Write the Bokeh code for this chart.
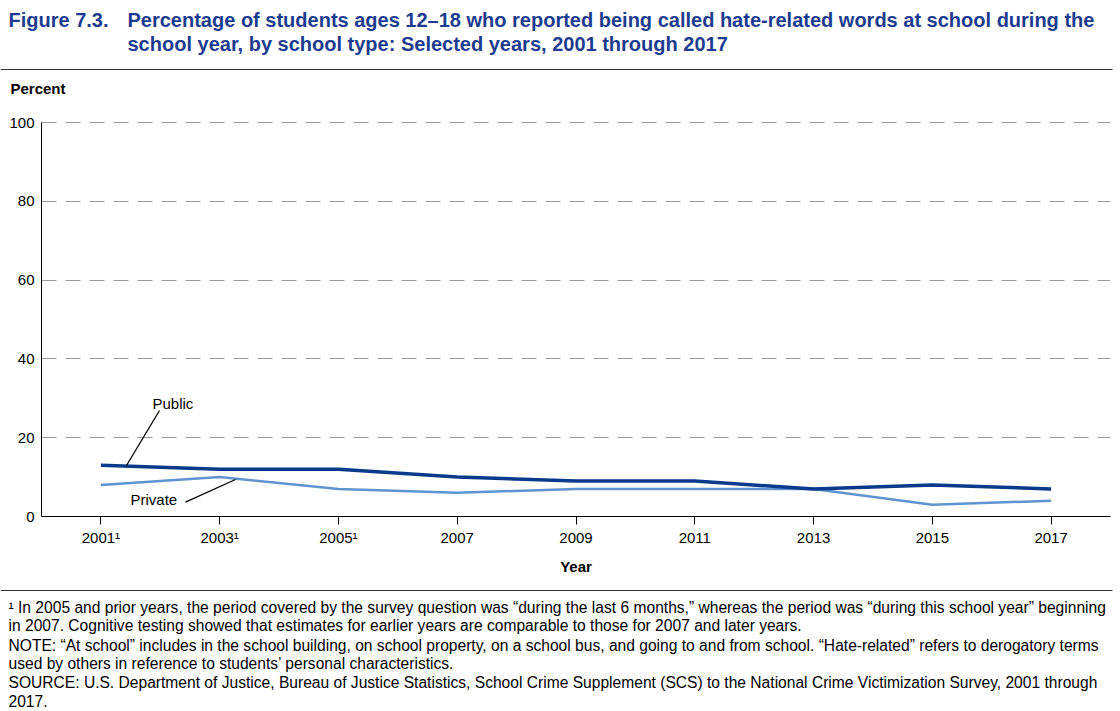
from bokeh.plotting import figure
from bokeh.layouts import column
from bokeh.models import Range1d, FixedTicker
from bokeh.core.properties import value
from bokeh.embed import file_html
from bokeh.resources import INLINE

# ---- data ----
years = [2001, 2003, 2005, 2007, 2009, 2011, 2013, 2015, 2017]
public = [13, 12, 12, 10, 9, 9, 7, 8, 7]
private = [8, 10, 7, 6, 7, 7, 7, 3, 4]
x_tick_labels = ["2001\u00b9", "2003\u00b9", "2005\u00b9", "2007", "2009", "2011", "2013", "2015", "2017"]
y_ticks = [0, 20, 40, 60, 80, 100]

title_num = "Figure 7.3."
title_lines = [
    "Percentage of students ages 12\u201318 who reported being called hate-related words at school during the",
    "school year, by school type: Selected years, 2001 through 2017",
]
footnotes = [
    "\u00b9 In 2005 and prior years, the period covered by the survey question was \u201cduring the last 6 months,\u201d whereas the period was \u201cduring this school year\u201d beginning",
    "in 2007. Cognitive testing showed that estimates for earlier years are comparable to those for 2007 and later years.",
    "NOTE: \u201cAt school\u201d includes in the school building, on school property, on a school bus, and going to and from school. \u201cHate-related\u201d refers to derogatory terms",
    "used by others in reference to students\u2019 personal characteristics.",
    "SOURCE: U.S. Department of Justice, Bureau of Justice Statistics, School Crime Supplement (SCS) to the National Crime Victimization Survey, 2001 through",
    "2017.",
]

FONT = "Liberation Sans"
TITLE_COLOR = "#1d3c8f"
PUBLIC_COLOR = "#0a3a8c"
PRIVATE_COLOR = "#5e94d0"
W = 1120

TOP_Y0, TOP_Y1 = 0, 100
MAIN_Y0, MAIN_Y1 = 100, 580
BOT_Y0, BOT_Y1 = 580, 711


def blank(y0, y1):
    f = figure(width=W, height=y1 - y0, x_range=Range1d(0, W), y_range=Range1d(y1, y0),
               x_axis_type=None, y_axis_type=None, min_border=0,
               output_backend="svg", toolbar_location=None)
    f.outline_line_color = None
    f.frame_align = False
    return f

# ---- top: title ----
top = blank(TOP_Y0, TOP_Y1)
top.text(x=[8], y=[19], text=[title_num], text_font=value(FONT), text_font_size="20px",
         text_font_style="bold", text_color=TITLE_COLOR, text_baseline="middle")
top.text(x=[127] * 2, y=[19, 43], text=title_lines, text_font=value(FONT), text_font_size="20px",
         text_font_style="bold", text_color=TITLE_COLOR, text_baseline="middle")
top.segment(x0=[0], y0=[69], x1=[1112], y1=[69], line_color="#333333", line_width=1)
top.text(x=[10], y=[88], text=["Percent"], text_font=value(FONT), text_font_size="15px",
         text_font_style="bold", text_color="black", text_baseline="middle")

# ---- main plot ----
FRAME_L, FRAME_R, FRAME_T, FRAME_B = 41, 1110, 120, 516
Y100 = 122  # pixel row of the 100 % gridline
X0, X1 = 2000, 2018
Y_END = 100 * (FRAME_B - FRAME_T) / (FRAME_B - Y100)
p = figure(width=W, height=MAIN_Y1 - MAIN_Y0, x_range=Range1d(X0, X1), y_range=Range1d(0, Y_END),
           output_backend="svg", toolbar_location=None,
           min_border_left=FRAME_L, min_border_right=W - FRAME_R,
           min_border_top=FRAME_T - MAIN_Y0, min_border_bottom=MAIN_Y1 - FRAME_B)
p.frame_align = False
p.outline_line_color = None
p.xgrid.visible = False
p.ygrid.grid_line_color = "#9a9a9a"
p.ygrid.grid_line_dash = "15 9"
p.ygrid.grid_line_width = 1

p.yaxis.ticker = FixedTicker(ticks=y_ticks)
p.yaxis.major_tick_line_color = None
p.yaxis.major_tick_out = 0
p.yaxis.major_tick_in = 0
p.yaxis.minor_tick_line_color = None
p.yaxis.major_label_standoff = 7
p.yaxis.axis_line_color = "black"
p.yaxis.bounds = (0, 100)

p.xaxis.ticker = FixedTicker(ticks=years)
p.xaxis.major_label_overrides = {y: l for y, l in zip(years, x_tick_labels)}
p.xaxis.minor_tick_line_color = None
p.xaxis.major_tick_out = 8
p.xaxis.major_tick_in = 0
p.xaxis.major_tick_line_color = "black"
p.xaxis.major_label_standoff = 4
p.xaxis.axis_line_color = "black"
p.xaxis.axis_label = "Year"
p.xaxis.axis_label_text_font_style = "bold"
p.xaxis.axis_label_text_font_size = "15px"
p.xaxis.axis_label_standoff = 9
for ax in (p.xaxis, p.yaxis):
    ax.major_label_text_font = FONT
    ax.major_label_text_font_size = "15px"
    ax.major_label_text_color = "black"
    ax.axis_label_text_font = FONT
    ax.axis_label_text_color = "black"

p.line(years, private, line_color=PRIVATE_COLOR, line_width=2.5)
p.line(years, public, line_color=PUBLIC_COLOR, line_width=3.5)


def fx(px):
    return X0 + (px - FRAME_L) * (X1 - X0) / (FRAME_R - FRAME_L)


def fy(py):
    return (FRAME_B - py) * 100 / (FRAME_B - Y100)

# series labels with leader lines
p.segment(x0=[fx(159), fx(185)], y0=[fy(410), fy(501.7)], x1=[fx(126), fx(235)], y1=[fy(465), fy(479)],
          line_color="black", line_width=1.3)
p.text(x=[fx(152), fx(130)], y=[fy(403), fy(499)], text=["Public", "Private"], text_font=value(FONT),
       text_font_size="15px", text_color="black", text_baseline="middle")

# ---- bottom: footnotes ----
bot = blank(BOT_Y0, BOT_Y1)
bot.segment(x0=[0], y0=[590], x1=[1112], y1=[590], line_color="#333333", line_width=1)
bot.text(x=[8] * len(footnotes), y=[606.5, 625, 644.5, 663, 682, 700.5], text=footnotes,
         text_font=value(FONT), text_font_size="15.6px", text_color="black", text_baseline="middle")

layout = column(top, p, bot, spacing=0)
open("out.html", "w").write(file_html(layout, INLINE))
